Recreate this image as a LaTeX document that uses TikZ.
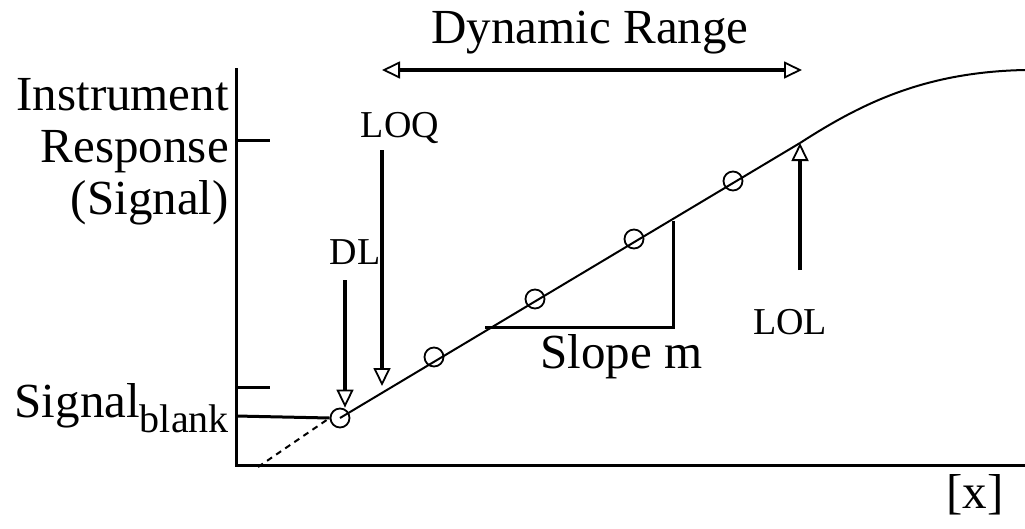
\documentclass[tikz,border=0pt]{standalone}
\usepackage{fontspec}
\setmainfont{Liberation Serif}
\usetikzlibrary{arrows.meta,positioning,calc}
\tikzset{
  axis/.style={
    line width=3pt
  },
  datapt/.style={
    draw,
    circle,
    line width=1.8pt,
    minimum width=18pt,
    minimum height=19pt,
    inner sep=0pt
  },
  opentip/.tip={Triangle[open,length=18pt,width=17pt,line width=1.8pt]},
  marker/.style={
    -opentip,
    line width=3.2pt
  },
  bigtext/.style={
    font=\fontsize{49}{52}\selectfont,
    inner sep=0pt
  },
  smalltext/.style={
    font=\fontsize{38}{40}\selectfont,
    inner sep=0pt
  }
}

\begin{document}
\begin{tikzpicture}[x=1pt,y=-1pt]
\useasboundingbox (0,0) rectangle (1025,528);

% axes
\coordinate (origin) at (236,465);
\coordinate (ytop) at (236,68);
\coordinate (xend) at (1025,465);
\draw[axis] (ytop) -- (origin) -- (xend);

% ticks on the response axis
\coordinate (tickhi) at (236,140);
\coordinate (ticklo) at (236,387);
\coordinate (blank) at (236,416);
\draw[axis] (tickhi) -- ++(34,0);
\draw[axis] (ticklo) -- ++(34,0);

% calibration points
\node[datapt] (c1) at (340,418) {};
\node[datapt] (c2) at (434,357) {};
\node[datapt] (c3) at (535,299) {};
\node[datapt] (c4) at (634,239) {};
\node[datapt] (c5) at (733,181) {};

\coordinate (lol) at (800,143);
\coordinate (zero) at (258,467);
\coordinate (sat) at (1025,70);

\draw[axis] (blank) -- (c1.west);
\draw[line width=2pt] (c1.center) -- (lol);
\draw[line width=2pt, dash pattern=on 6pt off 5pt] (zero) -- (c1.west);
\draw[line width=2pt] (lol) .. controls (862,103) and (925,72) .. (sat);

% slope triangle
\coordinate (s1) at (485,327);
\coordinate (s2) at (673,327);
\coordinate (s3) at (673,221);
\draw[axis] (s1) -- (s2) -- (s3);
\node[bigtext, anchor=west] (slope) at (540,357) {Slope m};

% limits
\coordinate (dlfrom) at (345,280);
\coordinate (loqfrom) at (382,150);
\coordinate (loqto) at (382,386);
\coordinate (lolfrom) at (800,270);
\draw[marker] (dlfrom) -- (c1.north -| dlfrom);
\draw[marker] (loqfrom) -- (loqto);
\draw[marker] (lolfrom) -- (lol);
\node[smalltext] (dl) at (355,252) {DL};
\node[smalltext] (loq) at (400,128) {LOQ};
\node[smalltext] (lolname) at (790,322) {LOL};

% dynamic range
\coordinate (drl) at (382,70);
\coordinate (drr) at (802,70);
\draw[marker, opentip-opentip] (drl) -- (drr);
\node[bigtext] (dr) at (590,33) {Dynamic Range};

% axis names
\node[bigtext, align=right, anchor=east] (ylab) at (229,152) {Instrument\\Response\\(Signal)};
\node[bigtext, anchor=east] (sb) at (229,408) {Signal\raisebox{-0.3em}{\fontsize{40}{40}\selectfont blank}};
\node[bigtext] (xlab) at (975,495) {[x]};

\end{tikzpicture}
\end{document}
